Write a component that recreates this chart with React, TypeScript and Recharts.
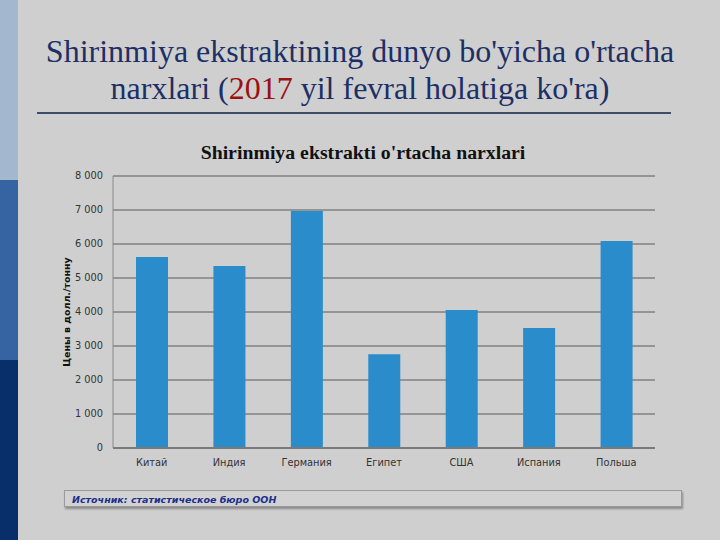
import React from "react";
import { BarChart, Bar, XAxis, YAxis, CartesianGrid } from "recharts";

const categories = ["Китай", "Индия", "Германия", "Египет", "США", "Испания", "Польша"];
const prices = [5620, 5350, 6970, 2760, 4060, 3530, 6090];
const yTicks = [0, 1000, 2000, 3000, 4000, 5000, 6000, 7000, 8000];

const data = categories.map((c, i) => ({ country: c, price: prices[i] }));

const fmt = (v: number) => (v === 0 ? "0" : `${Math.round(v / 1000)} 000`);

const SERIF = "'Liberation Serif', 'Times New Roman', 'DejaVu Serif', serif";
const SANS = "'DejaVu Sans', Verdana, sans-serif";

export default function App() {
  return (
    <div
      style={{
        position: "fixed",
        left: 0,
        top: 0,
        width: 720,
        height: 540,
        background: "#cfcfcf",
        overflow: "hidden",
      }}
    >
      <div style={{ position: "absolute", left: 0, top: 0, width: 18, height: 180, background: "#a3b8cf" }} />
      <div style={{ position: "absolute", left: 0, top: 180, width: 18, height: 180, background: "#3663a1" }} />
      <div style={{ position: "absolute", left: 0, top: 360, width: 18, height: 180, background: "#082f69" }} />

      <div
        style={{
          position: "absolute",
          left: 18,
          width: 684,
          top: 33,
          textAlign: "center",
          fontFamily: SERIF,
          fontSize: 32,
          lineHeight: "37px",
          color: "#1d2f66",
          whiteSpace: "nowrap",
        }}
      >
        Shirinmiya ekstraktining dunyo bo'yicha o'rtacha
        <br />
        narxlari (<span style={{ color: "#9c1010" }}>2017</span> yil fevral holatiga ko'ra)
      </div>
      <div style={{ position: "absolute", left: 37, top: 112, width: 634, height: 2, background: "#3d4c68" }} />

      <div
        style={{
          position: "absolute",
          left: 113,
          width: 500,
          top: 141,
          textAlign: "center",
          fontFamily: SERIF,
          fontWeight: "bold",
          fontSize: 19.8,
          color: "#111",
          whiteSpace: "nowrap",
        }}
      >
        Shirinmiya ekstrakti o'rtacha narxlari
      </div>

      <div
        style={{
          position: "absolute",
          left: 66,
          top: 312,
          transform: "translate(-50%, -50%) rotate(-90deg)",
          whiteSpace: "nowrap",
          fontFamily: SANS,
          fontWeight: "bold",
          fontSize: 9.5,
          color: "#111",
        }}
      >
        Цены в долл./тонну
      </div>

      <div style={{ position: "absolute", left: 0, top: 0 }}>
        <BarChart
          width={720}
          height={540}
          data={data}
          margin={{ top: 176, right: 65, bottom: 62, left: 68 }}
          barSize={32}
        >
          <CartesianGrid vertical={false} stroke="#5a5a5a" strokeWidth={1} />
          <XAxis
            dataKey="country"
            height={30}
            tickLine={false}
            axisLine={{ stroke: "#7a7a7a", strokeWidth: 2 }}
            tick={{ fill: "#333", fontSize: 9.8, fontFamily: SANS }}
            tickMargin={5}
            interval={0}
          />
          <YAxis
            width={45}
            domain={[0, 8000]}
            ticks={yTicks}
            tickFormatter={fmt}
            tickLine={false}
            tickSize={0}
            tickMargin={10}
            axisLine={{ stroke: "#8a8a8a", strokeWidth: 1 }}
            tick={{ fill: "#333", fontSize: 9.8, fontFamily: SANS }}
            interval={0}
          />
          <Bar dataKey="price" fill="#2a8ccb" isAnimationActive={false} />
        </BarChart>
      </div>

      <div
        style={{
          position: "absolute",
          left: 64,
          top: 490,
          width: 618,
          height: 17,
          border: "1px solid #9a9a9a",
          background: "#d2d2d2",
          boxShadow: "1px 2px 2px #8a8a8a",
          fontFamily: SANS,
          fontWeight: "bold",
          fontStyle: "italic",
          fontSize: 9.5,
          lineHeight: "17px",
          color: "#1c2f8a",
          paddingLeft: 7,
          boxSizing: "border-box",
        }}
      >
        Источник: статистическое бюро ООН
      </div>
    </div>
  );
}
